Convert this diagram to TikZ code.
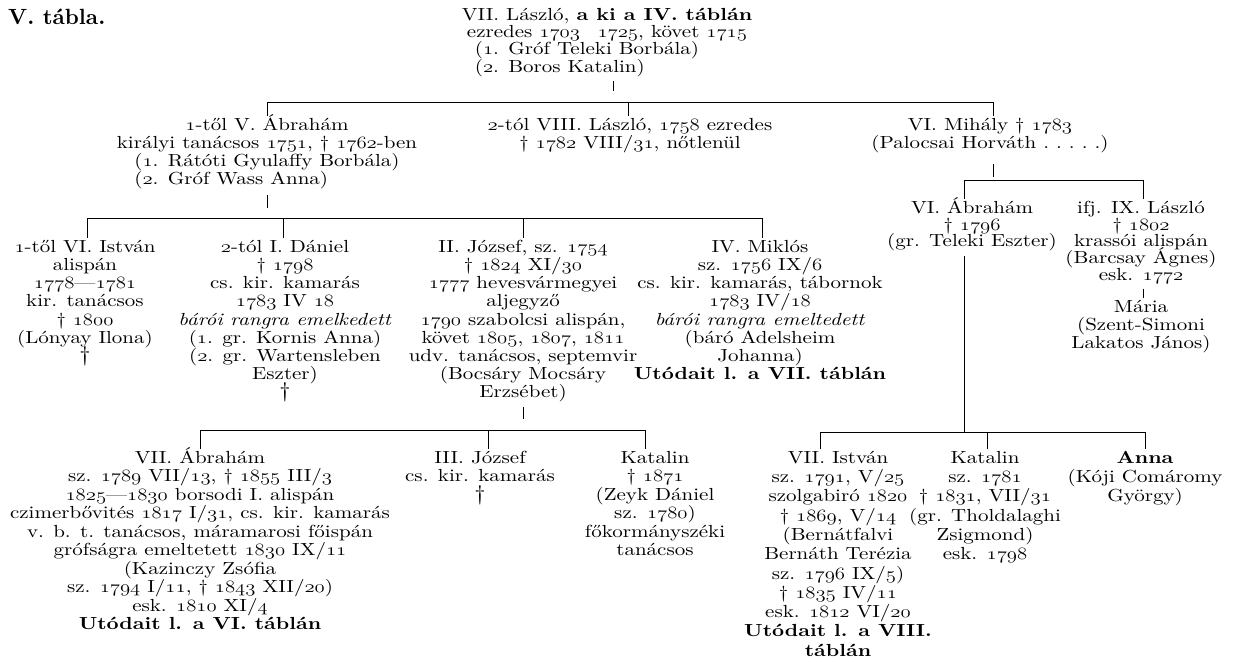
\documentclass[tikz,border=0pt]{standalone}
\usepackage{fontspec}
\usepackage{graphicx}
\setmainfont{lmroman10-regular.otf}[BoldFont=lmroman10-bold.otf, ItalicFont=lmroman10-italic.otf, BoldItalicFont=lmroman10-bolditalic.otf, FakeStretch=1.2]
\newfontfamily\titlefont{lmroman10-bold.otf}
\usetikzlibrary{calc}
\newlength\lboxlen
\newcommand\lboxw[3]{\settowidth{\lboxlen}{#1}\addtolength{\lboxlen}{#2}\makebox[\lboxlen][l]{#3}}
\newcommand\os[1]{\scalebox{1.2}[1]{\fontencoding{OML}\fontfamily{cmm}\fontseries{m}\fontshape{it}\selectfont #1}}
\newcommand\bigdag{{\fontsize{21}{18.2}\selectfont †}}
\newcommand\topst{\rule{0pt}{18pt}}
\newcommand\botst{\rule[-5pt]{0pt}{5pt}}
\begin{document}
\begin{tikzpicture}[x=1pt,y=-1pt,
  person/.style={align=center, anchor=north, inner sep=0pt,
    font={\fontsize{17.5}{#1}\selectfont\lineskiplimit=-40pt\relax}},
  person/.default=18.2,
  link/.style={line width=0.8pt}]
\useasboundingbox (0,0) rectangle (1236,661);
\node[anchor=base west, inner sep=0pt, font={\titlefont\fontsize{22}{24}\selectfont}] (title) at (8,25) {V. tábla.};

\node[person=17.3] (n0) at (607,2) {\topst VII. László, \textbf{a ki a IV. táblán}\\ezredes \os{1703}\quad\os{1725}, követ \os{1715}\\ \lboxw{(\os{1}. Gróf Teleki Borbála)}{40pt}{(\os{1}. Gróf Teleki Borbála)}\\ \lboxw{(\os{1}. Gróf Teleki Borbála)}{40pt}{(\os{2}. Boros Katalin)}\botst};

\node[person] (n1) at (267,112) {\topst\os{1}-től V. Ábrahám\\királyi tanácsos \os{1751}, † \os{1762}-ben\\(\os{1}. Rátóti Gyulaffy Borbála)\\ \lboxw{(\os{1}. Rátóti Gyulaffy Borbála)}{0pt}{(\os{2}. Gróf Wass Anna)}\botst};
\node[person] (n2) at (630,112) {\topst\os{2}-tól VIII. László, \os{1758} ezredes\\† \os{1782} VIII/\os{31}, nőtlenül\botst};
\node[person] (n3) at (990,112) {\topst VI. Mihály † \os{1783}\\(Palocsai Horváth .\ .\ .\ .\ .)\botst};

\node[person=16.8] (n4) at (972,195) {\topst VI. Ábrahám\\† \os{1796}\\(gr. Teleki Eszter)\botst};
\node[person=16.8] (n5) at (1141,195) {\topst ifj. IX. László\\† \os{1802}\\krassói alispán\\(Barcsay Ágnes)\\esk. \os{1772}\botst};
\node[person=18] (n6) at (1141,294) {\topst Mária\\(Szent-Simoni\\Lakatos János)\botst};

\node[person] (n7) at (85,234) {\topst\os{1}-től VI. István\\alispán\\\os{1778}—\os{1781}\\kir. tanácsos\\† \os{1800}\\(Lónyay Ilona)\\\bigdag\botst};
\node[person] (n8) at (285,234) {\topst\os{2}-tól I. Dániel\\† \os{1798}\\cs. kir. kamarás\\\os{1783} IV \os{18}\\\textit{bárói rangra emelkedett}\\(\os{1}. gr. Kornis Anna)\\(\os{2}. gr. Wartensleben\\Eszter)\\\bigdag\botst};
\node[person] (n9) at (523,234) {\topst II. József, sz. \os{1754}\\† \os{1824} XI/\os{30}\\\os{1777} hevesvármegyei\\aljegyző\\\os{1790} szabolcsi alispán,\\követ \os{1805}, \os{1807}, \os{1811}\\udv. tanácsos, septemvir\\(Bocsáry Mocsáry\\Erzsébet)\botst};
\node[person] (n10) at (760,234) {\topst IV. Miklós\\sz. \os{1756} IX/\os{6}\\cs. kir. kamarás, tábornok\\\os{1783} IV/\os{18}\\\textit{bárói rangra emeltedett}\\(báró Adelsheim\\Johanna)\\\textbf{Utódait l. a VII. táblán}\botst};

\node[person=18.5] (n11) at (200,445) {\topst VII. Ábrahám\\sz. \os{1789} VII/\os{13}, † \os{1855} III/\os{3}\\\os{1825}—\os{1830} borsodi I. alispán\\czimerbővités \os{1817} I/\os{31}, cs. kir. kamarás\\v. b. t. tanácsos, máramarosi főispán\\grófságra emeltetett \os{1830} IX/\os{11}\\(Kazinczy Zsófia\\sz. \os{1794} I/\os{11}, † \os{1843} XII/\os{20})\\esk. \os{1810} XI/\os{4}\\\textbf{Utódait l. a VI. táblán}\botst};
\node[person=18.5] (n12) at (480,445) {\topst III. József\\cs. kir. kamarás\\\bigdag\botst};
\node[person=18.5] (n13) at (655,445) {\topst Katalin\\† \os{1871}\\(Zeyk Dániel\\sz. \os{1780})\\főkormányszéki\\tanácsos\botst};
\node[person=19.3] (n14) at (838,445) {\topst VII. István\\sz. \os{1791}, V/\os{25}\\szolgabiró \os{1820}\\† \os{1869}, V/\os{14}\\(Bernátfalvi\\Bernáth Terézia\\sz. \os{1796} IX/\os{5})\\† \os{1835} IV/\os{11}\\esk. \os{1812} VI/\os{20}\\\textbf{Utódait l. a VIII.}\\\textbf{táblán}\botst};
\node[person=19.3] (n15) at (985,445) {\topst Katalin\\sz. \os{1781}\\† \os{1831}, VII/\os{31}\\(gr. Tholdalaghi\\Zsigmond)\\esk. \os{1798}\botst};
\node[person=19.3] (n16) at (1145,445) {\topst\textbf{Anna}\\(Kóji Comáromy\\György)\botst};

% bar 1
\coordinate (b1a) at (267,102); \coordinate (b1b) at (628,102); \coordinate (b1c) at (993,102); \coordinate (s0) at (613,102);
\draw[link] (b1a) -- (b1c);
\draw[link] ($(n0.south -| s0)+(0,4)$) -- ++(0,10);
\foreach \c/\n in {b1a/n1, b1b/n2, b1c/n3} \draw[link] (\c) -- ($(\c |- \n.north)+(0,4)$);
% bar 2
\coordinate (b2a) at (87,218); \coordinate (b2b) at (283,218); \coordinate (b2c) at (523,218); \coordinate (b2d) at (762,218);
\draw[link] (b2a) -- (b2d);
\draw[link] ($(n1.south -| b1a)+(0,5)$) -- ++(0,13);
\foreach \c/\n in {b2a/n7, b2b/n8, b2c/n9, b2d/n10} \draw[link] (\c) -- ($(\c |- \n.north)+(0,4)$);
% Mihaly
\coordinate (b3a) at (964,180); \coordinate (b3b) at (1143,180);
\draw[link] (b3a) -- (b3b);
\draw[link] ($(n3.south -| b1c)+(0,10)$) -- ++(0,13);
\foreach \c/\n in {b3a/n4, b3b/n5} \draw[link] (\c) -- ($(\c |- \n.north)+(0,4)$);
\draw[link] ($(n5.south -| b3b)+(0,3)$) -- ($(b3b |- n6.north)+(0,4)$);
% Jozsef
\coordinate (b4a) at (200,430); \coordinate (b4b) at (488,430); \coordinate (b4c) at (645,430);
\draw[link] (b4a) -- (b4c);
\draw[link] ($(n9.south -| b2c)+(0,4)$) -- ++(0,12);
\foreach \c/\n in {b4a/n11, b4b/n12, b4c/n13} \draw[link] (\c) -- ($(\c |- \n.north)+(0,4)$);
% VI. Abraham
\coordinate (b5a) at (820,432); \coordinate (b5b) at (987,432); \coordinate (b5c) at (1145,432);
\draw[link] (b5a) -- (b5c);
\draw[link] ($(n4.south -| b3a)+(0,4)$) -- (b3a |- b5a);
\foreach \c/\n in {b5a/n14, b5b/n15, b5c/n16} \draw[link] (\c) -- ($(\c |- \n.north)+(0,4)$);
\end{tikzpicture}
\end{document}
